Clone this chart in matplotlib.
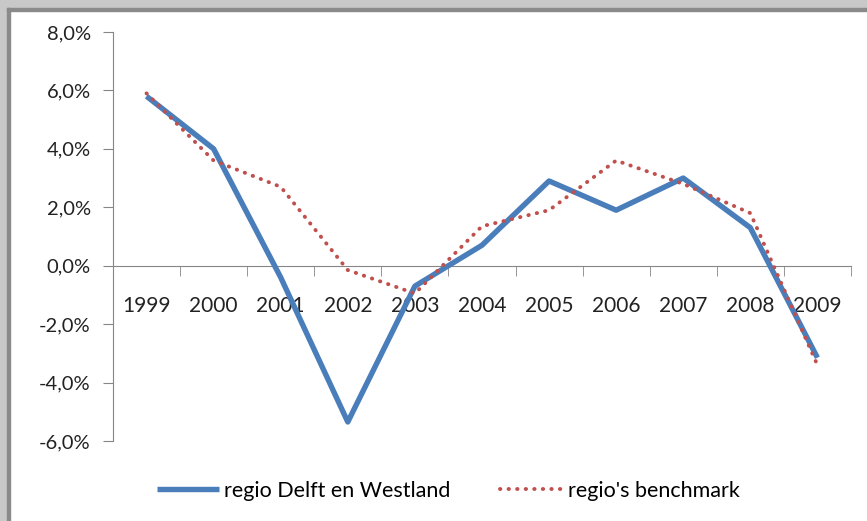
import matplotlib.pyplot as plt
import numpy as np
from matplotlib.patches import Rectangle
from matplotlib.ticker import FuncFormatter

plt.rcParams["font.family"] = ["Lato", "DejaVu Sans"]

years = ["1999", "2000", "2001", "2002", "2003", "2004", "2005", "2006", "2007", "2008", "2009"]
delft = [5.8, 4.0, -0.4, -5.35, -0.7, 0.7, 2.9, 1.9, 3.0, 1.3, -3.15]
bench = [5.9, 3.6, 2.7, -0.15, -0.95, 1.35, 1.9, 3.6, 2.8, 1.8, -3.4]

fig = plt.figure(figsize=(8.67, 5.21), dpi=100)
ax = fig.add_axes([0.1303, 0.1536, 0.8512, 0.785])

x = np.arange(len(years))
ax.plot(x, delft, color="#4A7EBB", linewidth=3.9, solid_capstyle="butt",
        label="regio Delft en Westland", zorder=3)
ax.plot(x, bench, color="#C0504D", linewidth=2.8, linestyle=(0, (0.1, 2.1)),
        dash_capstyle="round", label="regio's benchmark", zorder=4)

ax.set_xlim(-0.5, len(years) - 0.5)
ax.set_ylim(-6, 8)
ax.set_yticks(np.arange(-6, 9, 2))
ax.yaxis.set_major_formatter(FuncFormatter(lambda v, p: f"{v:.1f}%".replace(".", ",")))

ax.set_xticks(x)
ax.set_xticklabels(years)
ax.set_xticks(np.arange(-0.5, len(years)), minor=True)
ax.tick_params(axis="x", which="major", length=0, pad=22, labelsize=15, colors="#222222")
ax.tick_params(axis="x", which="minor", length=7, color="#868686", direction="out")
ax.tick_params(axis="y", length=7, color="#868686", labelsize=14.5, pad=9,
               labelcolor="#222222")

for s in ["top", "right"]:
    ax.spines[s].set_visible(False)
ax.spines["bottom"].set_position(("data", 0))
ax.spines["bottom"].set_color("#868686")
ax.spines["left"].set_color("#868686")

fig.legend(loc="center", bbox_to_anchor=(0.517, 0.058), ncol=2, frameon=False,
           fontsize=15.5, handlelength=2.9, handletextpad=0.25, columnspacing=2.3)

# outer frame (top and left only, picture is cropped)
fig.patches.append(Rectangle((0, 0.985), 1, 0.015, transform=fig.transFigure,
                             color="#C8C8C8", zorder=0))
fig.patches.append(Rectangle((0, 0), 0.008, 1, transform=fig.transFigure,
                             color="#C8C8C8", zorder=0))
fig.patches.append(Rectangle((0.008, 0.979), 0.992, 0.006, transform=fig.transFigure,
                             color="#8A8A8A", zorder=0))
fig.patches.append(Rectangle((0.008, 0), 0.0035, 0.985, transform=fig.transFigure,
                             color="#8A8A8A", zorder=0))

fig.savefig("out.png", dpi=100)
